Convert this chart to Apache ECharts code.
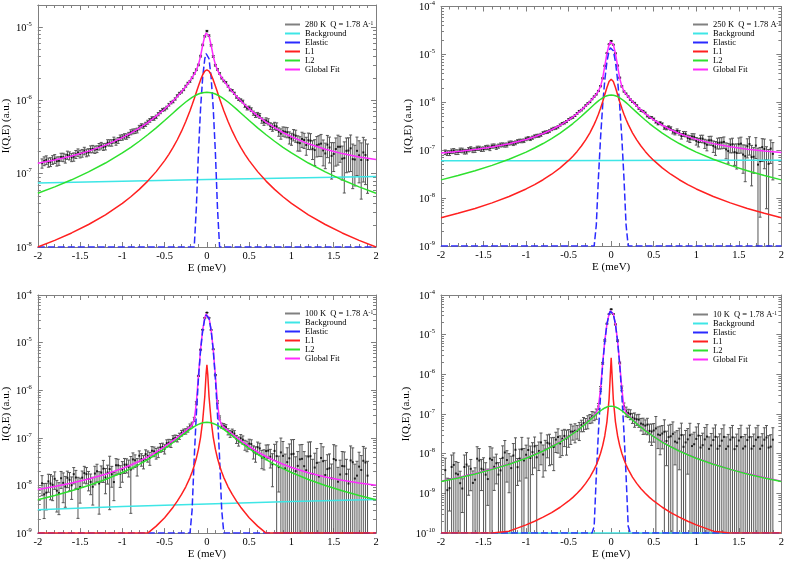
<!DOCTYPE html>
<html><head><meta charset="utf-8">
<script src="https://cdn.jsdelivr.net/npm/echarts@6/dist/echarts.min.js"></script>
<style>html,body{margin:0;padding:0;background:#fff}#c{width:787px;height:561px}</style>
</head><body><div id="c"></div>
<script>
// ---------- shared energy grids ----------
const dataE = [-1.95,-1.9,-1.85,-1.8,-1.75,-1.7,-1.65,-1.6,-1.55,-1.5,-1.45,-1.4,-1.35,-1.3,-1.25,-1.2,-1.15,-1.1,-1.05,-1,-0.95,-0.9,-0.85,-0.8,-0.75,-0.7,-0.65,-0.6,-0.55,-0.5,-0.45,-0.4,-0.35,-0.3,-0.25,-0.2,-0.15,-0.1,-0.05,0,0.05,0.1,0.15,0.2,0.25,0.3,0.35,0.4,0.45,0.5,0.55,0.6,0.65,0.7,0.75,0.8,0.85,0.9,0.95,1,1.05,1.1,1.15,1.2,1.25,1.3,1.35,1.4,1.45,1.5,1.55,1.6,1.65,1.7,1.75,1.8,1.85,1.9];
const dataEMid = [-1.925,-1.875,-1.825,-1.775,-1.725,-1.675,-1.625,-1.575,-1.525,-1.475,-1.425,-1.375,-1.325,-1.275,-1.225,-1.175,-1.125,-1.075,-1.025,-0.975,-0.925,-0.875,-0.825,-0.775,-0.725,-0.675,-0.625,-0.575,-0.525,-0.475,-0.425,-0.375,-0.325,-0.275,-0.225,-0.175,-0.125,-0.075,-0.025,0.025,0.075,0.125,0.175,0.225,0.275,0.325,0.375,0.425,0.475,0.525,0.575,0.625,0.675,0.725,0.775,0.825,0.875,0.925,0.975,1.025,1.075,1.125,1.175,1.225,1.275,1.325,1.375,1.425,1.475,1.525,1.575,1.625,1.675,1.725,1.775,1.825,1.875];
const curveE = [-2,-1.8,-1.6,-1.4,-1.2,-1,-0.9,-0.8,-0.7,-0.6,-0.5,-0.45,-0.4,-0.35,-0.3,-0.25,-0.2,-0.175,-0.15,-0.125,-0.1,-0.075,-0.05,-0.025,-0.01,0,0.01,0.025,0.05,0.075,0.1,0.125,0.15,0.175,0.2,0.25,0.3,0.35,0.4,0.45,0.5,0.6,0.7,0.8,0.9,1,1.2,1.4,1.6,1.8,2];
const elE = [-2,-0.225,-0.2,-0.175,-0.15,-0.125,-0.1,-0.075,-0.05,-0.025,-0.01,0,0.01,0.025,0.05,0.075,0.1,0.125,0.15,0.175,0.2,0.225,2];
const bgE = [-2,-1,0,1,2];

// ---------- panel 1 : 280 K ----------
const p1Name = '280 K  Q = 1.78 A^-1';
const p1Val = [13.9e-8,15.4e-8,14.5e-8,16.0e-8,15.0e-8,16.8e-8,18.0e-8,16.7e-8,18.4e-8,18.6e-8,20.5e-8,19.7e-8,21.8e-8,21.7e-8,24.2e-8,23.5e-8,26.4e-8,28.8e-8,28.5e-8,31.3e-8,32.2e-8,36.8e-8,38.1e-8,42.6e-8,44.6e-8,50.4e-8,56.6e-8,59.7e-8,69.3e-8,75.5e-8,87.2e-8,96.4e-8,115.4e-8,130.1e-8,156.2e-8,181.8e-8,233.1e-8,304.6e-8,570.9e-8,881e-8,565e-8,301.5e-8,233.2e-8,183.8e-8,156.4e-8,135.7e-8,111.1e-8,100.7e-8,84.1e-8,79.0e-8,67.0e-8,63.9e-8,53.3e-8,53.0e-8,44.8e-8,45.0e-8,37.3e-8,37.9e-8,36.7e-8,30.0e-8,33.0e-8,26.1e-8,28.8e-8,28.6e-8,21.9e-8,24.5e-8,25.7e-8,18.9e-8,22.8e-8,18.6e-8,23.3e-8,16.0e-8,20.5e-8,22.2e-8,15.6e-8,17.8e-8,19.5e-8,15.4e-8];
const p1Err = [2.0e-8,2.1e-8,2.0e-8,2.2e-8,2.0e-8,2.2e-8,2.3e-8,2.1e-8,2.3e-8,2.2e-8,2.4e-8,2.2e-8,2.5e-8,2.3e-8,2.5e-8,2.4e-8,2.6e-8,2.7e-8,2.6e-8,2.7e-8,2.7e-8,2.9e-8,2.8e-8,3.0e-8,2.9e-8,3.1e-8,3.2e-8,3.2e-8,3.4e-8,3.5e-8,3.7e-8,3.8e-8,4.0e-8,4.3e-8,4.6e-8,5.0e-8,6.0e-8,8.0e-8,14.0e-8,20.0e-8,14.0e-8,8.0e-8,6.0e-8,5.0e-8,4.6e-8,4.5e-8,4.3e-8,4.4e-8,4.3e-8,4.5e-8,4.4e-8,4.6e-8,4.5e-8,4.8e-8,4.7e-8,5.2e-8,4.9e-8,5.5e-8,5.8e-8,5.6e-8,6.2e-8,5.8e-8,6.7e-8,7.2e-8,6.3e-8,7.6e-8,8.6e-8,7.2e-8,8.8e-8,7.9e-8,10.2e-8,7.8e-8,10.2e-8,11.5e-8,8.8e-8,10.3e-8,11.8e-8,10.0e-8];
const p1Mid = [14.9e-8,14.3e-8,15.5e-8,14.8e-8,16.9e-8,16.2e-8,17.6e-8,17.0e-8,19.5e-8,19.1e-8,19.3e-8,21.6e-8,21.3e-8,23.4e-8,23.2e-8,26.5e-8,26.4e-8,27.1e-8,31.0e-8,32.4e-8,33.8e-8,37.8e-8,38.9e-8,45.0e-8,47.2e-8,53.4e-8,56.7e-8,65.0e-8,74.3e-8,79.7e-8,93.2e-8,104.6e-8,124.7e-8,140.2e-8,171.8e-8,203e-8,261.8e-8,401.3e-8,749e-8,764e-8,397.3e-8,264.6e-8,201.1e-8,175.4e-8,139.0e-8,124.9e-8,103.9e-8,96.4e-8,78.4e-8,74.8e-8,63.0e-8,61.4e-8,50.4e-8,51.2e-8,43.0e-8,44.1e-8,35.2e-8,37.3e-8,31.3e-8,34.0e-8,26.6e-8,29.8e-8,24.6e-8,28.2e-8,21.0e-8,25.1e-8,20.8e-8,24.9e-8,17.5e-8,21.7e-8,23.3e-8,16.3e-8,20.7e-8,15.8e-8,20.5e-8,15.4e-8,18.0e-8];
const p1MidErr = [2.05e-8,2.05e-8,2.1e-8,2.1e-8,2.1e-8,2.25e-8,2.2e-8,2.2e-8,2.25e-8,2.3e-8,2.3e-8,2.35e-8,2.4e-8,2.4e-8,2.45e-8,2.5e-8,2.65e-8,2.65e-8,2.65e-8,2.7e-8,2.8e-8,2.85e-8,2.9e-8,2.95e-8,3.0e-8,3.15e-8,3.2e-8,3.3e-8,3.45e-8,3.6e-8,3.75e-8,3.9e-8,4.15e-8,4.45e-8,4.8e-8,5.5e-8,7.0e-8,11.0e-8,17.0e-8,17.0e-8,11.0e-8,7.0e-8,5.5e-8,4.8e-8,4.55e-8,4.4e-8,4.35e-8,4.35e-8,4.4e-8,4.45e-8,4.55e-8,4.65e-8,4.75e-8,4.95e-8,5.05e-8,5.2e-8,5.65e-8,5.7e-8,5.9e-8,6.0e-8,6.25e-8,6.95e-8,6.75e-8,6.95e-8,8.1e-8,7.9e-8,8.0e-8,8.35e-8,9.05e-8,9.0e-8,9.0e-8,10.85e-8,10.15e-8,9.55e-8,11.05e-8,10.9e-8,10.9e-8];
const p1Bg = [7.44e-8,7.87e-8,8.3e-8,8.73e-8,9.16e-8];
const p1El = [1e-8,1e-8,1e-8,1e-8,1e-8,3.41e-8,1.98e-7,7.76e-7,2.06e-6,3.7e-6,4.36e-6,4.5e-6,4.36e-6,3.7e-6,2.06e-6,7.76e-7,1.98e-7,3.41e-8,1e-8,1e-8,1e-8,1e-8,1e-8];
const p1L1 = [1e-8,1.23e-8,1.555e-8,2.027e-8,2.751e-8,3.943e-8,4.851e-8,6.109e-8,7.922e-8,1.067e-7,1.509e-7,1.838e-7,2.283e-7,2.904e-7,3.799e-7,5.14e-7,7.227e-7,8.7e-7,1.056e-6,1.291e-6,1.576e-6,1.904e-6,2.237e-6,2.499e-6,2.583e-6,2.6e-6,2.583e-6,2.499e-6,2.237e-6,1.904e-6,1.576e-6,1.291e-6,1.056e-6,8.7e-7,7.227e-7,5.14e-7,3.799e-7,2.904e-7,2.283e-7,1.838e-7,1.509e-7,1.067e-7,7.922e-8,6.109e-8,4.851e-8,3.943e-8,2.751e-8,2.027e-8,1.555e-8,1.23e-8,1e-8];
const p1L2 = [5.41e-8,6.61e-8,8.25e-8,1.057e-7,1.398e-7,1.921e-7,2.292e-7,2.77e-7,3.395e-7,4.22e-7,5.312e-7,5.98e-7,6.739e-7,7.588e-7,8.519e-7,9.505e-7,1.05e-6,1.098e-6,1.143e-6,1.184e-6,1.22e-6,1.25e-6,1.272e-6,1.285e-6,1.289e-6,1.29e-6,1.289e-6,1.285e-6,1.272e-6,1.25e-6,1.22e-6,1.184e-6,1.143e-6,1.098e-6,1.05e-6,9.505e-7,8.519e-7,7.588e-7,6.739e-7,5.98e-7,5.312e-7,4.22e-7,3.395e-7,2.77e-7,2.292e-7,1.921e-7,1.398e-7,1.057e-7,8.25e-8,6.61e-8,5.41e-8];
const p1Fit = [1.385e-7,1.537e-7,1.742e-7,2.03e-7,2.451e-7,3.102e-7,3.568e-7,4.177e-7,4.987e-7,6.091e-7,7.63e-7,8.629e-7,9.835e-7,1.131e-6,1.314e-6,1.547e-6,1.855e-6,2.05e-6,2.285e-6,2.592e-6,3.077e-6,4.013e-6,5.652e-6,7.567e-6,8.315e-6,8.473e-6,8.315e-6,7.567e-6,5.652e-6,4.013e-6,3.077e-6,2.594e-6,2.286e-6,2.052e-6,1.857e-6,1.549e-6,1.317e-6,1.134e-6,9.869e-7,8.668e-7,7.673e-7,6.143e-7,5.047e-7,4.246e-7,3.645e-7,3.188e-7,2.555e-7,2.15e-7,1.879e-7,1.691e-7,1.557e-7];

// ---------- panel 2 : 250 K ----------
const p2Name = '250 K  Q = 1.78 A^-1';
const p2Val = [9.11e-8,8.73e-8,9.72e-8,9.16e-8,9.93e-8,9.37e-8,10.7e-8,10.1e-8,11.0e-8,10.6e-8,11.5e-8,12.2e-8,11.6e-8,12.9e-8,12.8e-8,14.1e-8,13.8e-8,15.3e-8,15.6e-8,17.2e-8,17.3e-8,19.5e-8,20.1e-8,22.9e-8,24.0e-8,27.2e-8,29.0e-8,33.5e-8,37.1e-8,43.7e-8,48.6e-8,58.8e-8,68.7e-8,85.7e-8,101.5e-8,131.8e-8,172.2e-8,316.9e-8,1064e-8,1909e-8,1053e-8,326.5e-8,168.8e-8,131.8e-8,102.6e-8,85.7e-8,67.3e-8,60.0e-8,48.6e-8,44.6e-8,36.0e-8,34.9e-8,28.8e-8,28.4e-8,23.2e-8,23.2e-8,22.0e-8,18.0e-8,19.3e-8,15.6e-8,17.5e-8,13.9e-8,16.1e-8,12.3e-8,14.2e-8,14.5e-8,10.4e-8,13.0e-8,9.12e-8,13.3e-8,8.1e-8,12.1e-8,7.2e-8,12.5e-8,5.9e-8,10.6e-8,5.2e-8,8.4e-8];
const p2Err = [1.0e-8,1.0e-8,1.1e-8,1.0e-8,1.1e-8,1.0e-8,1.1e-8,1.1e-8,1.1e-8,1.1e-8,1.2e-8,1.2e-8,1.2e-8,1.2e-8,1.2e-8,1.3e-8,1.3e-8,1.3e-8,1.3e-8,1.4e-8,1.4e-8,1.4e-8,1.5e-8,1.5e-8,1.6e-8,1.6e-8,1.7e-8,1.8e-8,1.9e-8,2.0e-8,2.2e-8,2.4e-8,2.6e-8,3.0e-8,3.4e-8,4.0e-8,5.0e-8,8.0e-8,20e-8,32e-8,20e-8,8.0e-8,5.0e-8,4.0e-8,3.4e-8,3.0e-8,2.6e-8,2.5e-8,2.3e-8,2.3e-8,2.2e-8,2.3e-8,2.2e-8,2.4e-8,2.3e-8,2.5e-8,2.6e-8,2.6e-8,2.8e-8,2.8e-8,3.0e-8,3.0e-8,3.3e-8,3.3e-8,3.6e-8,3.8e-8,3.8e-8,4.2e-8,4.3e-8,4.7e-8,4.8e-8,5.2e-8,5.4e-8,5.8e-8,5.5e-8,6.5e-8,5.15e-8,6.0e-8];
const p2Mid = [8.74e-8,9.54e-8,9.16e-8,10.0e-8,9.36e-8,10.3e-8,10.0e-8,11.0e-8,10.5e-8,11.4e-8,11.0e-8,12.3e-8,12.2e-8,13.0e-8,12.9e-8,14.3e-8,14.3e-8,15.7e-8,15.8e-8,17.8e-8,18.3e-8,20.0e-8,21.0e-8,23.7e-8,25.2e-8,28.4e-8,30.7e-8,36.0e-8,39.7e-8,46.7e-8,52.8e-8,65.1e-8,75.9e-8,94.7e-8,116.6e-8,146.8e-8,217.2e-8,577.4e-8,1627e-8,1595e-8,583.2e-8,215e-8,151.3e-8,114.4e-8,96.6e-8,74.4e-8,65.1e-8,51.8e-8,48.1e-8,39.0e-8,37.1e-8,29.6e-8,29.9e-8,24.3e-8,25.2e-8,19.7e-8,21.7e-8,17.3e-8,19.1e-8,14.7e-8,17.4e-8,13.0e-8,16.1e-8,11.5e-8,14.4e-8,14.9e-8,9.6e-8,13.3e-8,8.8e-8,13.7e-8,7.5e-8,13.5e-8,7.3e-8,5.0e-8,11.6e-8,6.2e-8,10.8e-8];
const p2MidErr = [1.0e-8,1.05e-8,1.05e-8,1.05e-8,1.05e-8,1.05e-8,1.1e-8,1.1e-8,1.1e-8,1.15e-8,1.2e-8,1.2e-8,1.2e-8,1.2e-8,1.25e-8,1.3e-8,1.3e-8,1.3e-8,1.35e-8,1.4e-8,1.4e-8,1.45e-8,1.5e-8,1.55e-8,1.6e-8,1.65e-8,1.75e-8,1.85e-8,1.95e-8,2.1e-8,2.3e-8,2.5e-8,2.8e-8,3.2e-8,3.7e-8,4.5e-8,6.5e-8,14e-8,26e-8,26e-8,14e-8,6.5e-8,4.5e-8,3.7e-8,3.2e-8,2.8e-8,2.55e-8,2.4e-8,2.3e-8,2.25e-8,2.25e-8,2.3e-8,2.35e-8,2.4e-8,2.55e-8,2.6e-8,2.7e-8,2.8e-8,2.9e-8,3.0e-8,3.15e-8,3.3e-8,3.45e-8,3.7e-8,3.8e-8,4.0e-8,4.25e-8,4.5e-8,4.75e-8,5.0e-8,5.3e-8,5.6e-8,4.0e-8,6.0e-8,5.8e-8,5.6e-8,5.5e-8];
const p2Bg = [6.0e-8,6.05e-8,6.1e-8,6.15e-8,6.2e-8];
const p2El = [1e-9,1e-9,1e-9,2.74e-9,2.65e-8,1.81e-7,8.69e-7,2.95e-6,7.06e-6,1.193e-5,1.381e-5,1.42e-5,1.381e-5,1.193e-5,7.06e-6,2.95e-6,8.69e-7,1.81e-7,2.65e-8,2.74e-9,1e-9,1e-9,1e-9];
const p2L1 = [3.89e-9,4.81e-9,6.08e-9,7.94e-9,1.079e-8,1.552e-8,1.913e-8,2.417e-8,3.15e-8,4.271e-8,6.113e-8,7.511e-8,9.444e-8,1.222e-7,1.639e-7,2.306e-7,3.456e-7,4.362e-7,5.644e-7,7.514e-7,1.031e-6,1.45e-6,2.044e-6,2.71e-6,2.982e-6,3.04e-6,2.982e-6,2.71e-6,2.044e-6,1.45e-6,1.031e-6,7.514e-7,5.644e-7,4.362e-7,3.456e-7,2.306e-7,1.639e-7,1.222e-7,9.444e-8,7.511e-8,6.113e-8,4.271e-8,3.15e-8,2.417e-8,1.913e-8,1.552e-8,1.079e-8,7.94e-9,6.08e-9,4.81e-9,3.89e-9];
const p2L2 = [2.4e-8,2.95e-8,3.72e-8,4.82e-8,6.48e-8,9.14e-8,1.112e-7,1.378e-7,1.748e-7,2.278e-7,3.065e-7,3.601e-7,4.27e-7,5.107e-7,6.152e-7,7.441e-7,8.98e-7,9.827e-7,1.07e-6,1.157e-6,1.24e-6,1.313e-6,1.37e-6,1.407e-6,1.418e-6,1.42e-6,1.418e-6,1.407e-6,1.37e-6,1.313e-6,1.24e-6,1.157e-6,1.07e-6,9.827e-7,8.98e-7,7.441e-7,6.152e-7,5.107e-7,4.27e-7,3.601e-7,3.065e-7,2.278e-7,1.748e-7,1.378e-7,1.112e-7,9.14e-8,6.48e-8,4.82e-8,3.72e-8,2.95e-8,2.4e-8];
const p2Fit = [8.79e-8,9.44e-8,1.035e-7,1.164e-7,1.36e-7,1.674e-7,1.909e-7,2.226e-7,2.67e-7,3.312e-7,4.284e-7,4.96e-7,5.822e-7,6.937e-7,8.4e-7,1.036e-6,1.305e-6,1.483e-6,1.722e-6,2.15e-6,3.201e-6,5.774e-6,1.053e-5,1.611e-5,1.827e-5,1.872e-5,1.827e-5,1.611e-5,1.053e-5,5.774e-6,3.201e-6,2.15e-6,1.722e-6,1.483e-6,1.305e-6,1.036e-6,8.4e-7,6.94e-7,5.826e-7,4.964e-7,4.289e-7,3.318e-7,2.677e-7,2.234e-7,1.918e-7,1.684e-7,1.372e-7,1.178e-7,1.051e-7,9.62e-8,8.99e-8];

// ---------- panel 3 : 100 K ----------
const p3Name = '100 K  Q = 1.78 A^-1';
const p3Val = [11.1e-9,7.07e-9,11.0e-9,13.8e-9,6.94e-9,11.35e-9,14.5e-9,10.1e-9,14.7e-9,9.26e-9,18.2e-9,13.7e-9,9.38e-9,19.9e-9,18.7e-9,14.7e-9,22.1e-9,11.8e-9,26.5e-9,21.7e-9,27.3e-9,21.6e-9,33.9e-9,42.2e-9,32.3e-9,41.9e-9,53.6e-9,47.8e-9,62.8e-9,58.8e-9,79.1e-9,96.2e-9,97.1e-9,126.3e-9,137.9e-9,175.6e-9,244.4e-9,1994e-9,18660e-9,42600e-9,18470e-9,2076e-9,263.9e-9,177.5e-9,135.4e-9,132.7e-9,94.4e-9,98.3e-9,71.9e-9,75.7e-9,51.9e-9,63.6e-9,38.5e-9,52.8e-9,40.3e-9,53.2e-9,24.3e-9,41.9e-9,30.9e-9,45.4e-9,20.0e-9,35.4e-9,25.4e-9,40.6e-9,17.5e-9,29.8e-9,37.9e-9,16.6e-9,23.0e-9,36.0e-9,12.0e-9,25.7e-9,17.4e-9,33.6e-9,14.0e-9,24.9e-9,33.0e-9,16.1e-9];
const p3Err = [5.0e-9,4.0e-9,6.0e-9,5.5e-9,4.5e-9,7.0e-9,5.5e-9,5.0e-9,6.0e-9,5.0e-9,7.0e-9,6.0e-9,5.5e-9,8.0e-9,7.0e-9,8.0e-9,19.0e-9,7.0e-9,9.0e-9,10.0e-9,9.0e-9,19.0e-9,10.0e-9,11.0e-9,10.0e-9,11.0e-9,12.0e-9,12.0e-9,13.0e-9,13.0e-9,14.0e-9,15.0e-9,15.0e-9,17.0e-9,18.0e-9,20.0e-9,25.0e-9,60e-9,200e-9,300e-9,200e-9,60e-9,25e-9,22e-9,20e-9,20e-9,18e-9,19e-9,17e-9,18e-9,16e-9,18e-9,16e-9,18e-9,17e-9,20e-9,17e-9,41.9e-9,31e-9,46e-9,20e-9,36e-9,26e-9,41e-9,18e-9,30e-9,38e-9,17e-9,23e-9,36e-9,12e-9,26e-9,18e-9,34e-9,14e-9,25e-9,33e-9,16.1e-9];
const p3Mid = [6.52e-9,12.2e-9,10.3e-9,7.77e-9,14.2e-9,9.49e-9,13.2e-9,17.3e-9,8.44e-9,14.6e-9,17.3e-9,11.9e-9,17.8e-9,11.0e-9,22.6e-9,18.7e-9,17.2e-9,26.6e-9,17.6e-9,27.4e-9,24.6e-9,35.3e-9,26.3e-9,35.9e-9,45.5e-9,38.0e-9,52.2e-9,51.0e-9,64.3e-9,77.4e-9,77.3e-9,99.6e-9,109.0e-9,135.1e-9,150.8e-9,190.9e-9,537.5e-9,7107e-9,33110e-9,33110e-9,7251e-9,564.5e-9,181.8e-9,168.2e-9,122.3e-9,122.8e-9,85.7e-9,91.6e-9,68.2e-9,74.1e-9,47.8e-9,60.1e-9,38.7e-9,54.0e-9,27.9e-9,41.3e-9,49.5e-9,22.8e-9,37.2e-9,46.2e-9,25.8e-9,36.3e-9,20.9e-9,41.3e-9,23.8e-9,15.4e-9,32.4e-9,22.1e-9,14.1e-9,34.0e-9,17.0e-9,25.3e-9,11.0e-9,30.8e-9,16.1e-9,21.2e-9,30.4e-9];
const p3MidErr = [4.5e-9,5.0e-9,5.5e-9,5.0e-9,5.5e-9,6.0e-9,5.5e-9,6.5e-9,6.4e-9,5.5e-9,6.5e-9,5.5e-9,7.5e-9,8.5e-9,11.0e-9,8.0e-9,8.0e-9,10.0e-9,8.5e-9,9.5e-9,9.5e-9,13.0e-9,10.5e-9,10.5e-9,10.5e-9,11.5e-9,12.0e-9,12.5e-9,13.0e-9,13.5e-9,14.5e-9,15.0e-9,16.0e-9,17.5e-9,19.0e-9,22.0e-9,40.0e-9,130e-9,250e-9,250e-9,130e-9,40e-9,22e-9,21e-9,20e-9,19e-9,18.5e-9,18e-9,17e-9,17e-9,17e-9,17e-9,17.5e-9,17.5e-9,18.5e-9,41.3e-9,49.5e-9,22.8e-9,37.2e-9,46.2e-9,25.8e-9,36.3e-9,20.9e-9,41.3e-9,23.8e-9,15.4e-9,32.4e-9,22.1e-9,14.1e-9,34e-9,17e-9,25.3e-9,11e-9,30.8e-9,16.1e-9,21.2e-9,30.4e-9];
const p3Bg = [3.1e-9,3.6e-9,4.1e-9,4.6e-9,5.1e-9];
const p3El = [1e-9,1e-9,1e-9,3.06e-9,3.76e-8,3.138e-7,1.781e-6,6.872e-6,1.803e-5,3.216e-5,3.781e-5,3.9e-5,3.781e-5,3.216e-5,1.803e-5,6.872e-6,1.781e-6,3.138e-7,3.76e-8,3.06e-9,1e-9,1e-9,1e-9];
const p3L1 = [1e-9,1e-9,1e-9,1e-9,1e-9,1e-9,1e-9,1e-9,1e-9,1.4e-9,2.1e-9,2.7e-9,3.5e-9,4.7e-9,6.5e-9,9.39e-9,1.464e-8,1.91e-8,2.6e-8,3.72e-8,5.78e-8,1.024e-7,2.289e-7,7.37e-7,2.155e-6,3.4e-6,2.155e-6,7.37e-7,2.289e-7,1.024e-7,5.78e-8,3.72e-8,2.6e-8,1.91e-8,1.464e-8,9.39e-9,6.5e-9,4.7e-9,3.5e-9,2.7e-9,2.1e-9,1.4e-9,1e-9,1e-9,1e-9,1e-9,1e-9,1e-9,1e-9,1e-9,1e-9];
const p3L2 = [5e-9,6.14e-9,7.72e-9,9.97e-9,1.334e-8,1.869e-8,2.261e-8,2.783e-8,3.494e-8,4.489e-8,5.913e-8,6.852e-8,7.986e-8,9.352e-8,1.098e-7,1.288e-7,1.5e-7,1.61e-7,1.72e-7,1.825e-7,1.921e-7,2.003e-7,2.067e-7,2.106e-7,2.118e-7,2.12e-7,2.118e-7,2.106e-7,2.067e-7,2.003e-7,1.921e-7,1.825e-7,1.72e-7,1.61e-7,1.5e-7,1.288e-7,1.098e-7,9.352e-8,7.986e-8,6.852e-8,5.913e-8,4.489e-8,3.494e-8,2.783e-8,2.261e-8,1.869e-8,1.334e-8,9.97e-9,7.72e-9,6.14e-9,5e-9];
const p3Fit = [8.25e-9,9.52e-9,1.125e-8,1.367e-8,1.725e-8,2.288e-8,2.699e-8,3.245e-8,3.989e-8,5.032e-8,6.533e-8,7.53e-8,8.743e-8,1.022e-7,1.203e-7,1.422e-7,1.688e-7,1.872e-7,2.396e-7,5.375e-7,2.035e-6,7.179e-6,1.847e-5,3.311e-5,4.018e-5,4.261e-5,4.018e-5,3.311e-5,1.847e-5,7.179e-6,2.035e-6,5.376e-7,2.398e-7,1.874e-7,1.69e-7,1.425e-7,1.206e-7,1.026e-7,8.783e-8,7.575e-8,6.583e-8,5.092e-8,4.059e-8,3.325e-8,2.789e-8,2.388e-8,1.845e-8,1.507e-8,1.285e-8,1.132e-8,1.015e-8];

// ---------- panel 4 : 10 K ----------
const p4Name = '10 K  Q = 1.78 A^-1';
const p4Val = [38.6e-10,13.6e-10,52.4e-10,30.1e-10,13.3e-10,53.4e-10,41.7e-10,22.1e-10,67.4e-10,39.5e-10,23.0e-10,69.9e-10,57.4e-10,38.0e-10,107.6e-10,55.4e-10,90.3e-10,45.9e-10,129.1e-10,94.4e-10,78.1e-10,153.8e-10,117.7e-10,95.8e-10,188.9e-10,153e-10,227.4e-10,181.4e-10,281.3e-10,275.5e-10,360e-10,374e-10,527.5e-10,591.5e-10,774.9e-10,901.5e-10,1569e-10,19040e-10,188900e-10,436200e-10,181500e-10,19420e-10,1599e-10,1069e-10,811.8e-10,739.4e-10,575.4e-10,511.8e-10,376.4e-10,385.7e-10,304.7e-10,322.6e-10,209.9e-10,275.4e-10,202.4e-10,239.4e-10,149.8e-10,230.6e-10,156.2e-10,236.1e-10,143.4e-10,229.6e-10,132.4e-10,221.6e-10,133.3e-10,213.8e-10,132.4e-10,226.1e-10,130.6e-10,215.6e-10,134.8e-10,221.2e-10,134.1e-10,225e-10,132.8e-10,225.9e-10,142.8e-10,225.9e-10];
const p4Err = [38.6e-10,10e-10,52.4e-10,30.1e-10,10e-10,53.4e-10,30e-10,22.1e-10,67.4e-10,39.5e-10,18e-10,69.9e-10,40e-10,38e-10,107.6e-10,45e-10,90.3e-10,30e-10,129.1e-10,70e-10,78.1e-10,110e-10,80e-10,70e-10,110e-10,100e-10,120e-10,100e-10,130e-10,130e-10,140e-10,140e-10,170e-10,180e-10,200e-10,220e-10,280e-10,1000e-10,5000e-10,8000e-10,5000e-10,1000e-10,300e-10,250e-10,230e-10,220e-10,200e-10,200e-10,180e-10,190e-10,170e-10,190e-10,160e-10,275.4e-10,150e-10,200e-10,149.8e-10,200e-10,156.2e-10,236.1e-10,143.4e-10,229.6e-10,132.4e-10,221.6e-10,133.3e-10,213.8e-10,132.4e-10,226.1e-10,130.6e-10,215.6e-10,134.8e-10,221.2e-10,134.1e-10,225e-10,132.8e-10,225.9e-10,142.8e-10,225.9e-10];
const p4Mid = [12.1e-10,46.4e-10,31.8e-10,18.1e-10,46.4e-10,29.0e-10,18.4e-10,75.0e-10,41.8e-10,29.7e-10,75.4e-10,46.9e-10,29.8e-10,79.0e-10,69.3e-10,43.4e-10,125.8e-10,75.5e-10,67.7e-10,124.1e-10,109.7e-10,81.2e-10,192.6e-10,127.2e-10,179.9e-10,147.5e-10,263.6e-10,239.7e-10,242.2e-10,361.7e-10,378.5e-10,414.8e-10,589.1e-10,664.8e-10,875.4e-10,1038e-10,4346e-10,71380e-10,329600e-10,332900e-10,70670e-10,4476e-10,1177e-10,1000e-10,764.5e-10,722.9e-10,545.8e-10,540.8e-10,361.7e-10,433.3e-10,294.2e-10,357.8e-10,262.2e-10,316.6e-10,190.8e-10,294.6e-10,192.9e-10,292.5e-10,173.7e-10,285.8e-10,164.6e-10,270.5e-10,161.8e-10,266.5e-10,157.9e-10,265.6e-10,153.4e-10,258.1e-10,156.0e-10,261.0e-10,153.2e-10,261.0e-10,156.3e-10,259.4e-10,160.0e-10,256.7e-10,150.8e-10];
const p4MidErr = [12.1e-10,46.4e-10,31.8e-10,18.1e-10,46.4e-10,20e-10,18.4e-10,75.0e-10,30e-10,29.7e-10,75.4e-10,35e-10,29.8e-10,79.0e-10,50e-10,43.4e-10,125.8e-10,55e-10,67.7e-10,124.1e-10,80e-10,81.2e-10,140e-10,90e-10,130e-10,110e-10,160e-10,150e-10,150e-10,190e-10,190e-10,200e-10,230e-10,240e-10,280e-10,300e-10,600e-10,3000e-10,7000e-10,7000e-10,3000e-10,600e-10,320e-10,280e-10,300e-10,260e-10,240e-10,240e-10,200e-10,433.3e-10,200e-10,357.8e-10,262.2e-10,316.6e-10,190.8e-10,294.6e-10,192.9e-10,292.5e-10,173.7e-10,285.8e-10,164.6e-10,270.5e-10,161.8e-10,266.5e-10,157.9e-10,265.6e-10,153.4e-10,258.1e-10,156.0e-10,261.0e-10,153.2e-10,261.0e-10,156.3e-10,259.4e-10,160.0e-10,256.7e-10,150.8e-10];
const p4Bg = [1e-10,1e-10,1e-10,1e-10,1e-10];
const p4El = [1e-10,1e-10,1.49e-10,2.79e-9,3.536e-8,3.032e-7,1.756e-6,6.896e-6,1.831e-5,3.29e-5,3.876e-5,4.0e-5,3.876e-5,3.29e-5,1.831e-5,6.896e-6,1.756e-6,3.032e-7,3.536e-8,2.79e-9,1.49e-10,1e-10,1e-10];
const p4L1 = [1e-10,1e-10,1e-10,1e-10,1.12e-10,1.61e-10,1.99e-10,2.52e-10,3.29e-10,4.48e-10,6.45e-10,7.96e-10,1.007e-9,1.315e-9,1.79e-9,2.577e-9,4.024e-9,5.253e-9,7.145e-9,1.028e-8,1.602e-8,2.844e-8,6.364e-8,2.347e-7,9.951e-7,2.6e-6,9.951e-7,2.347e-7,6.364e-8,2.844e-8,1.602e-8,1.028e-8,7.145e-9,5.253e-9,4.024e-9,2.577e-9,1.79e-9,1.315e-9,1.007e-9,7.96e-10,6.45e-10,4.48e-10,3.29e-10,2.52e-10,1.99e-10,1.61e-10,1.12e-10,1e-10,1e-10,1e-10,1e-10];
const p4L2 = [2e-9,2.46e-9,3.1e-9,4.03e-9,5.43e-9,7.71e-9,9.41e-9,1.172e-8,1.497e-8,1.971e-8,2.69e-8,3.193e-8,3.836e-8,4.663e-8,5.736e-8,7.122e-8,8.877e-8,9.893e-8,1.098e-7,1.211e-7,1.322e-7,1.424e-7,1.507e-7,1.561e-7,1.577e-7,1.58e-7,1.577e-7,1.561e-7,1.507e-7,1.424e-7,1.322e-7,1.211e-7,1.098e-7,9.893e-8,8.877e-8,7.122e-8,5.736e-8,4.663e-8,3.836e-8,3.193e-8,2.69e-8,1.971e-8,1.497e-8,1.172e-8,9.41e-9,7.71e-9,5.43e-9,4.03e-9,3.1e-9,2.46e-9,2e-9];
const p4Fit = [2.04e-9,2.51e-9,3.16e-9,4.11e-9,5.54e-9,7.87e-9,9.61e-9,1.197e-8,1.53e-8,2.016e-8,2.755e-8,3.273e-8,3.937e-8,4.795e-8,5.915e-8,7.38e-8,9.294e-8,1.07e-7,1.523e-7,4.346e-7,1.904e-6,7.067e-6,1.852e-5,3.329e-5,3.991e-5,4.276e-5,3.991e-5,3.329e-5,1.852e-5,7.067e-6,1.904e-6,4.346e-7,1.523e-7,1.07e-7,9.294e-8,7.38e-8,5.915e-8,4.795e-8,3.937e-8,3.273e-8,2.755e-8,2.016e-8,1.53e-8,1.197e-8,9.61e-9,7.87e-9,5.54e-9,4.03e-9,3.16e-9,2.51e-9,2.04e-9];

// ---------- drawing ----------
const FONT = 'Liberation Serif';
const FRAME = '#7f7f7f';
const COL = {bg:'#3ee6e6', el:'#2a2aff', l1:'#ff2020', l2:'#2ee02e', fit:'#ff2aff', data:'#808080'};

const panels = [
  {name:p1Name, val:p1Val, err:p1Err, mid:p1Mid, midErr:p1MidErr, bg:p1Bg, el:p1El, l1:p1L1, l2:p1L2, fit:p1Fit, min:1e-8, max:2e-5,
   grid:{left:33, top:5, width:343, height:242}, legend:{left:285, top:20}, yGap:21},
  {name:p2Name, val:p2Val, err:p2Err, mid:p2Mid, midErr:p2MidErr, bg:p2Bg, el:p2El, l1:p2L1, l2:p2L2, fit:p2Fit, min:1e-9, max:1e-4,
   grid:{left:441, top:5, width:342, height:241}, legend:{left:693, top:20}, yGap:27},
  {name:p3Name, val:p3Val, err:p3Err, mid:p3Mid, midErr:p3MidErr, bg:p3Bg, el:p3El, l1:p3L1, l2:p3L2, fit:p3Fit, min:1e-9, max:1e-4,
   grid:{left:33, top:295, width:343, height:240}, legend:{left:285, top:309}, yGap:21},
  {name:p4Name, val:p4Val, err:p4Err, mid:p4Mid, midErr:p4MidErr, bg:p4Bg, el:p4El, l1:p4L1, l2:p4L2, fit:p4Fit, min:1e-10, max:1e-4,
   grid:{left:441, top:295, width:342, height:241}, legend:{left:693, top:310}, yGap:27}
];

function minorValues(min, max) {
  const out = [];
  for (let e = Math.floor(Math.log10(min)); e <= Math.ceil(Math.log10(max)); e++) {
    for (let k = 2; k <= 9; k++) {
      const v = k * Math.pow(10, e);
      if (v > min * 1.0001 && v < max * 0.9999) out.push(v);
    }
  }
  return out;
}
function pow10Label(v) {
  const e = Math.round(Math.log10(v));
  if (Math.abs(v / Math.pow(10, e) - 1) > 1e-6) return '';
  return '{b|10}{s|' + e + '}';
}
function pairs(xs, ys) { return xs.map((x, i) => [x, ys[i]]); }
function errRender(params, api) {
  const x = api.value(0);
  const a = api.coord([x, api.value(2)]), b = api.coord([x, api.value(1)]);
  const mk = (x1, y1, x2, y2) => ({type:'line', shape:{x1, y1, x2, y2}, style:{stroke:'#555555', lineWidth:1}});
  return {type:'group', children:[
    mk(a[0], a[1], b[0], b[1]),
    mk(a[0] - 1.5, a[1], a[0] + 1.5, a[1]),
    mk(b[0] - 1.5, b[1], b[0] + 1.5, b[1])]};
}

const grid = [], xAxis = [], yAxis = [], series = [], legend = [];
const txt = {fontFamily: FONT, color: '#000'};

panels.forEach((p, g) => {
  grid.push(Object.assign({containLabel:false}, p.grid));
  const xBase = {gridIndex:g, type:'value', min:-2, max:2, interval:0.5,
    axisLine:{show:true, onZero:false, lineStyle:{color:FRAME, width:1}},
    axisTick:{show:true, inside:true, length:5, lineStyle:{color:FRAME}},
    minorTick:{show:true, splitNumber:5, length:3, lineStyle:{color:FRAME}},
    splitLine:{show:false}, minorSplitLine:{show:false}};
  xAxis.push(Object.assign({}, xBase, {position:'bottom',
    axisLabel:Object.assign({margin:4, fontSize:10.5}, txt),
    name:'E (meV)', nameLocation:'middle', nameGap:13,
    nameTextStyle:Object.assign({fontSize:11}, txt)}));
  xAxis.push(Object.assign({}, xBase, {position:'top', axisLabel:{show:false}}));

  const yBase = {gridIndex:g, type:'log', logBase:10, min:p.min, max:p.max, interval:1,
    splitLine:{show:false}, minorTick:{show:false}};
  const minors = minorValues(p.min, p.max);
  yAxis.push(Object.assign({}, yBase, {position:'left',
    axisLine:{show:true, onZero:false, lineStyle:{color:FRAME}},
    axisTick:{show:true, inside:true, length:5, lineStyle:{color:FRAME}},
    axisLabel:{margin:6, formatter:pow10Label, rich:{
      b:Object.assign({fontSize:10.5, verticalAlign:'bottom', lineHeight:13}, txt),
      s:Object.assign({fontSize:6.5, verticalAlign:'top', lineHeight:13}, txt)}},
    name:'I(Q,E) (a.u.)', nameLocation:'middle', nameGap:p.yGap, nameRotate:90,
    nameTextStyle:Object.assign({fontSize:11}, txt)}));
  yAxis.push(Object.assign({}, yBase, {position:'left', axisLine:{show:false, onZero:false}, axisLabel:{show:false},
    axisTick:{show:true, inside:true, length:3, customValues:minors, lineStyle:{color:FRAME}}}));
  yAxis.push(Object.assign({}, yBase, {position:'right',
    axisLine:{show:true, onZero:false, lineStyle:{color:FRAME}}, axisLabel:{show:false},
    axisTick:{show:true, inside:true, length:5, lineStyle:{color:FRAME}}}));
  yAxis.push(Object.assign({}, yBase, {position:'right', axisLine:{show:false, onZero:false}, axisLabel:{show:false},
    axisTick:{show:true, inside:true, length:3, customValues:minors, lineStyle:{color:FRAME}}}));

  const xi = 2 * g, yi = 4 * g;
  const pts = dataE.map((x, i) => [x, p.val[i], p.err[i]])
    .concat(dataEMid.map((x, i) => [x, p.mid[i], p.midErr[i]]))
    .sort((a, b) => a[0] - b[0]);
  const bars = pts.map(d => [d[0], Math.max(d[1] - d[2], p.min), d[1] + d[2]]);
  series.push({type:'custom', name:p.name, xAxisIndex:xi, yAxisIndex:yi, z:2, silent:true,
    itemStyle:{color:COL.data}, encode:{x:0, y:[1,2]}, data:bars, renderItem:errRender});
  series.push({type:'scatter', xAxisIndex:xi, yAxisIndex:yi, symbol:'rect', symbolSize:2, silent:true,
    itemStyle:{color:'#000'}, z:3, data:pts.map(d => [d[0], d[1]])});
  const line = (name, xs, ys, color, extra) => Object.assign({type:'line', name, xAxisIndex:xi, yAxisIndex:yi,
    data:pairs(xs, ys), showSymbol:false, symbol:'none', color, clip:true, z:4, silent:true,
    lineStyle:{color, width:1.5}}, extra || {});
  series.push(line('Global Fit', curveE, p.fit, COL.fit));
  series.push(line('Background', bgE, p.bg, COL.bg));
  series.push(line('Elastic', elE, p.el, COL.el, {lineStyle:{color:COL.el, width:1.5, type:[7,3]}}));
  series.push(line('L1', curveE, p.l1, COL.l1));
  series.push(line('L2', curveE, p.l2, COL.l2));

  legend.push({left:p.legend.left, top:p.legend.top, orient:'vertical', itemGap:0, itemWidth:15, itemHeight:2,
    icon:'rect', selectedMode:false, padding:0,
    data:[p.name, 'Background', 'Elastic', 'L1', 'L2', 'Global Fit'],
    formatter:(n) => n.indexOf('^') >= 0 ? '{n|' + n.split('^')[0] + '}{s|' + n.split('^')[1] + '}' : n,
    textStyle:Object.assign({fontSize:8.5, lineHeight:8.6, rich:{
      n:Object.assign({fontSize:8.5, lineHeight:8.6}, txt),
      s:Object.assign({fontSize:5.5, lineHeight:8.6, verticalAlign:'top'}, txt)}}, txt)});
});

const chart = echarts.init(document.getElementById('c'), null, {renderer:'canvas'});
chart.setOption({animation:false, backgroundColor:'#fff', grid, xAxis, yAxis, series, legend});
</script>
</body></html>
